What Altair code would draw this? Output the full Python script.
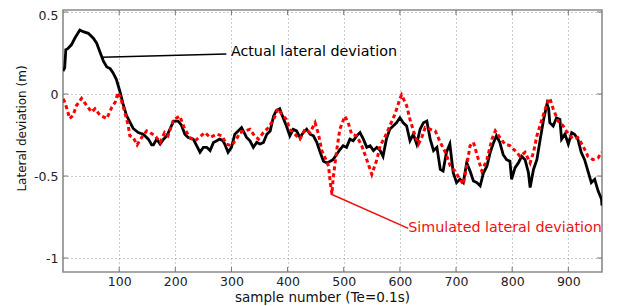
import altair as alt
import pandas as pd

# ---- data ----
actual_x = [0, 3, 5, 8, 15, 21, 30, 36, 45, 54, 60, 66, 72, 78, 84, 89, 95, 101, 107, 113, 119, 125, 134, 143, 152, 158, 161, 167, 173, 179, 185, 191, 197, 205, 211, 217, 223, 232, 238, 244, 250, 256, 262, 268, 274, 279, 285, 288, 294, 300, 306, 312, 318, 321, 327, 333, 339, 345, 351, 357, 363, 369, 375, 380, 386, 392, 398, 404, 410, 416, 422, 428, 434, 440, 446, 452, 458, 464, 470, 476, 481, 487, 493, 499, 505, 511, 517, 523, 529, 535, 541, 547, 553, 559, 565, 570, 576, 582, 588, 594, 600, 606, 612, 618, 624, 630, 636, 642, 648, 654, 660, 666, 672, 677, 683, 689, 695, 701, 707, 713, 719, 725, 731, 737, 743, 749, 755, 761, 767, 772, 778, 784, 790, 796, 799, 805, 811, 817, 823, 829, 832, 838, 844, 850, 856, 862, 865, 867, 873, 879, 885, 888, 894, 900, 906, 911, 917, 923, 929, 935, 941, 947, 953, 959, 960]
actual_y = [0.14, 0.16, 0.27, 0.275, 0.30, 0.34, 0.39, 0.38, 0.37, 0.34, 0.31, 0.255, 0.20, 0.165, 0.155, 0.13, 0.09, 0.02, -0.06, -0.13, -0.17, -0.21, -0.235, -0.245, -0.275, -0.31, -0.31, -0.275, -0.305, -0.275, -0.255, -0.21, -0.165, -0.165, -0.19, -0.245, -0.265, -0.275, -0.315, -0.355, -0.325, -0.325, -0.345, -0.295, -0.285, -0.275, -0.285, -0.305, -0.355, -0.325, -0.245, -0.225, -0.205, -0.225, -0.265, -0.285, -0.325, -0.295, -0.305, -0.295, -0.245, -0.225, -0.135, -0.10, -0.09, -0.145, -0.195, -0.255, -0.215, -0.225, -0.265, -0.235, -0.215, -0.245, -0.255, -0.295, -0.355, -0.41, -0.42, -0.41, -0.40, -0.37, -0.34, -0.315, -0.325, -0.275, -0.285, -0.255, -0.235, -0.275, -0.325, -0.315, -0.345, -0.325, -0.345, -0.38, -0.275, -0.215, -0.195, -0.175, -0.145, -0.175, -0.195, -0.285, -0.245, -0.305, -0.215, -0.175, -0.165, -0.275, -0.345, -0.325, -0.46, -0.47, -0.355, -0.305, -0.48, -0.54, -0.52, -0.54, -0.42, -0.47, -0.53, -0.54, -0.56, -0.48, -0.44, -0.355, -0.295, -0.255, -0.295, -0.37, -0.40, -0.41, -0.52, -0.45, -0.42, -0.38, -0.40, -0.48, -0.57, -0.46, -0.40, -0.275, -0.155, -0.06, -0.09, -0.175, -0.195, -0.145, -0.155, -0.275, -0.245, -0.305, -0.235, -0.245, -0.275, -0.355, -0.40, -0.47, -0.54, -0.52, -0.59, -0.64, -0.68]

sim_x = [0, 2, 7, 12, 18, 24, 33, 42, 51, 57, 66, 78, 87, 93, 98, 104, 110, 116, 119, 125, 132, 140, 149, 155, 164, 173, 181, 187, 197, 208, 217, 226, 235, 253, 262, 274, 283, 291, 300, 309, 315, 324, 333, 339, 348, 357, 366, 375, 383, 389, 398, 404, 413, 422, 431, 440, 449, 455, 461, 467, 473, 476, 479, 481, 487, 493, 502, 508, 514, 523, 532, 541, 550, 559, 565, 573, 582, 591, 600, 603, 612, 618, 627, 633, 639, 645, 654, 663, 672, 681, 690, 698, 707, 713, 719, 725, 731, 740, 746, 755, 764, 770, 778, 787, 796, 805, 814, 823, 832, 838, 844, 853, 862, 867, 873, 882, 891, 900, 909, 917, 926, 935, 944, 953, 959]
sim_y = [-0.03, -0.04, -0.09, -0.15, -0.13, -0.07, -0.027, -0.07, -0.11, -0.09, -0.13, -0.15, -0.08, -0.05, 0.01, -0.04, -0.11, -0.19, -0.255, -0.265, -0.31, -0.265, -0.225, -0.235, -0.255, -0.295, -0.235, -0.255, -0.155, -0.135, -0.215, -0.265, -0.285, -0.235, -0.265, -0.245, -0.255, -0.305, -0.315, -0.275, -0.235, -0.225, -0.215, -0.245, -0.275, -0.235, -0.205, -0.155, -0.09, -0.12, -0.155, -0.215, -0.245, -0.275, -0.215, -0.235, -0.175, -0.245, -0.345, -0.39, -0.44, -0.54, -0.61, -0.52, -0.355, -0.215, -0.135, -0.175, -0.245, -0.255, -0.315, -0.40, -0.49, -0.40, -0.315, -0.265, -0.195, -0.125, -0.03, -0.005, -0.07, -0.155, -0.255, -0.305, -0.265, -0.205, -0.215, -0.225, -0.295, -0.355, -0.44, -0.47, -0.52, -0.55, -0.44, -0.315, -0.295, -0.40, -0.47, -0.40, -0.275, -0.225, -0.265, -0.305, -0.315, -0.345, -0.38, -0.355, -0.42, -0.355, -0.255, -0.155, -0.06, -0.025, -0.09, -0.165, -0.195, -0.245, -0.275, -0.265, -0.315, -0.38, -0.40, -0.39, -0.355]

x_ticks = [100, 200, 300, 400, 500, 600, 700, 800, 900]
y_ticks = [-1, -0.5, 0, 0.5]

ann_labels = ["Actual lateral deviation", "Simulated lateral deviation"]
ann_text_x = [299, 615]
ann_text_y = [0.257, -0.819]
ann_from_x = [69, 477]
ann_from_y = [0.224, -0.61]
ann_to_x = [291, 615]
ann_to_y = [0.244, -0.819]
ann_colors = ["#000000", "#ee1111"]

X_DOMAIN = [0, 960]
Y_DOMAIN = [-1.085, 0.5122]
W, H = 539, 262
FONT = "DejaVu Sans"

xs = alt.Scale(domain=X_DOMAIN, nice=False, zero=False)
ys = alt.Scale(domain=Y_DOMAIN, nice=False, zero=False)

actual_df = pd.DataFrame({"x": actual_x, "y": actual_y})
sim_df = pd.DataFrame({"x": sim_x, "y": sim_y})
ann_df = pd.DataFrame({"label": ann_labels, "tx": ann_text_x, "ty": ann_text_y,
                       "fx": ann_from_x, "fy": ann_from_y, "ex": ann_to_x, "ey": ann_to_y,
                       "c": ann_colors})
xt_df = pd.DataFrame({"t": x_ticks})
yt_df = pd.DataFrame({"t": y_ticks})

x_axis = alt.Axis(values=x_ticks, grid=True, gridDash=[1, 3], gridColor="#9a9a9a",
                  gridWidth=1, ticks=False, domain=False, labelPadding=3,
                  labelFont=FONT, labelFontSize=12.5, labelColor="#222222",
                  title="sample number (Te=0.1s)", titleFont=FONT, titleFontSize=13.5,
                  titleFontWeight="normal", titleColor="#111111",
                  titleX=259, titleY=25, titleBaseline="middle", titleAlign="center")
y_axis = alt.Axis(values=y_ticks, grid=True, gridDash=[1, 3], gridColor="#9a9a9a",
                  gridWidth=1, ticks=False, domain=False, labelPadding=5,
                  labelFont=FONT, labelFontSize=12.5, labelColor="#222222",
                  labelExpr="toString(datum.value)",
                  labelOffset={"condition": {"test": "datum.value == 0.5", "value": 3.5}, "value": 0},
                  title="Lateral deviation (m)", titleFont=FONT, titleFontSize=12,
                  titleFontWeight="normal", titleColor="#111111",
                  titleX=-42, titleY=118, titleAngle=270, titleBaseline="middle",
                  titleAlign="center")

base_actual = alt.Chart(actual_df).mark_line(color="#000000", strokeWidth=2.8, clip=True).encode(
    x=alt.X("x:Q", scale=xs, axis=x_axis),
    y=alt.Y("y:Q", scale=ys, axis=y_axis),
)
sim_line = alt.Chart(sim_df).mark_line(color="#ff0000", strokeWidth=3, strokeDash=[4, 3], clip=True).encode(
    x=alt.X("x:Q", scale=xs),
    y=alt.Y("y:Q", scale=ys),
)

ann_lines = alt.Chart(ann_df).mark_rule(strokeWidth=1.6).encode(
    x=alt.X("fx:Q", scale=xs), y=alt.Y("fy:Q", scale=ys),
    x2="ex:Q", y2="ey:Q",
    color=alt.Color("c:N", scale=None),
)
ann_text = alt.Chart(ann_df).mark_text(align="left", baseline="middle", font=FONT,
                                       fontSize=14.3, dx=0).encode(
    x=alt.X("tx:Q", scale=xs), y=alt.Y("ty:Q", scale=ys),
    text="label:N",
    color=alt.Color("c:N", scale=None),
)

tick_col = "#777777"
xb = alt.Chart(xt_df).mark_rule(color=tick_col, strokeWidth=1).encode(
    x=alt.X("t:Q", scale=xs), y=alt.value(H), y2=alt.value(H - 5))
xtp = alt.Chart(xt_df).mark_rule(color=tick_col, strokeWidth=1).encode(
    x=alt.X("t:Q", scale=xs), y=alt.value(0), y2=alt.value(5))
yl = alt.Chart(yt_df).mark_rule(color=tick_col, strokeWidth=1).encode(
    y=alt.Y("t:Q", scale=ys), x=alt.value(0), x2=alt.value(5))
yr = alt.Chart(yt_df).mark_rule(color=tick_col, strokeWidth=1).encode(
    y=alt.Y("t:Q", scale=ys), x=alt.value(W), x2=alt.value(W - 5))

chart = alt.layer(base_actual, xb, xtp, yl, yr, sim_line, ann_lines, ann_text).properties(
    width=W, height=H,
    autosize=alt.AutoSizeParams(type="none"),
    padding={"left": 55, "top": 2, "right": 7, "bottom": 34},
    background="#ffffff",
).configure_view(stroke="#8a8a8a", strokeWidth=1.6)

chart.save("out.html", embed_options={"renderer": "svg", "actions": False})
